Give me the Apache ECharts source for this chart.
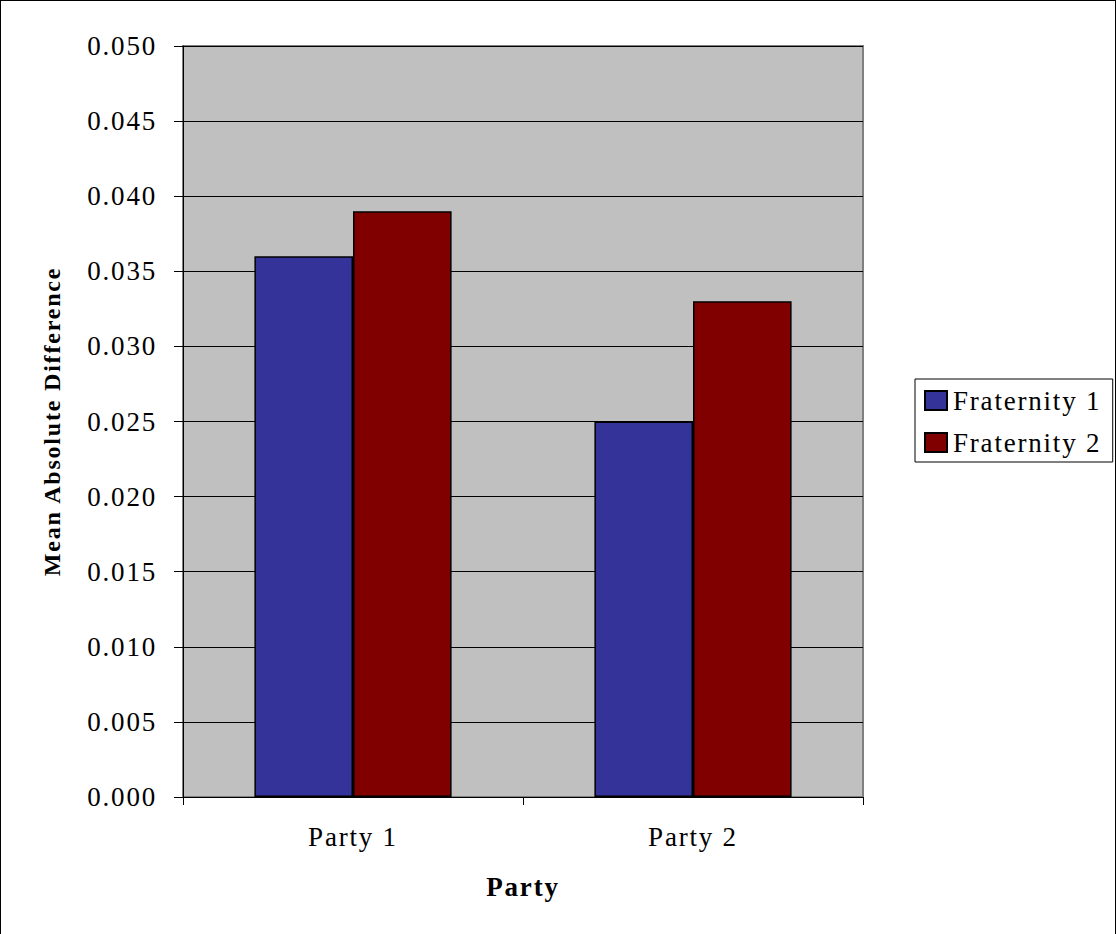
<!DOCTYPE html>
<html>
<head>
<meta charset="utf-8">
<script src="https://cdn.jsdelivr.net/npm/echarts@6/dist/echarts.min.js"></script>
<style>
html,body{margin:0;padding:0;background:#fff;}
#c{width:1116px;height:934px;box-sizing:border-box;border-top:1px solid #000;border-left:1px solid #000;border-right:1px solid #000;}
#c svg text{letter-spacing:1.8px;}
</style>
</head>
<body>
<div id="c"></div>
<script>
const categories = ['Party 1', 'Party 2'];
const fraternity1 = [0.036, 0.025];
const fraternity2 = [0.039, 0.033];
const seriesNames = ['Fraternity 1', 'Fraternity 2'];
const yTitle = 'Mean Absolute Difference';
const xTitle = 'Party';

const font = '"Liberation Serif", "Times New Roman", serif';
const chart = echarts.init(document.getElementById('c'), null, { renderer: 'svg' });
chart.setOption({
  animation: false,
  backgroundColor: '#fff',
  textStyle: { fontFamily: font },
  grid: {
    left: 182, top: 45, right: 252, bottom: 137,
    show: true, backgroundColor: '#C0C0C0', borderColor: '#808080', borderWidth: 2
  },
  legend: {
    orient: 'vertical',
    left: 914, top: 378,
    backgroundColor: '#fff',
    borderColor: '#000', borderWidth: 1,
    padding: [8, 33, 6, 9],
    itemGap: 15,
    itemWidth: 22, itemHeight: 19,
    textStyle: { fontFamily: font, fontSize: 27, color: '#000', padding: [0, 0, 0, 1] },
    data: seriesNames.map(n => ({ name: n, icon: 'rect', itemStyle: { borderColor: '#000', borderWidth: 2 } }))
  },
  xAxis: {
    type: 'category',
    data: categories,
    boundaryGap: true,
    name: xTitle,
    nameLocation: 'middle',
    nameGap: 76,
    nameTextStyle: { fontFamily: font, fontSize: 27, fontWeight: 'bold', color: '#000' },
    axisLine: { show: true, lineStyle: { color: '#000', width: 1 } },
    axisTick: { show: true, length: 8, lineStyle: { color: '#000' } },
    axisLabel: { fontFamily: font, fontSize: 27, color: '#000', margin: 26 },
    splitLine: { show: false }
  },
  yAxis: {
    type: 'value',
    min: 0, max: 0.05, interval: 0.005,
    name: yTitle,
    nameLocation: 'middle',
    nameGap: 119,
    nameTextStyle: { fontFamily: font, fontSize: 24, fontWeight: 'bold', color: '#000' },
    axisLine: { show: true, lineStyle: { color: '#000', width: 1 } },
    axisTick: { show: true, length: 9, lineStyle: { color: '#000' } },
    axisLabel: { fontFamily: font, fontSize: 27, color: '#000', margin: 26, padding: [0, 0, 4, 0], formatter: v => v.toFixed(3) },
    splitLine: { show: true, lineStyle: { color: '#000', width: 1 } }
  },
  series: [
    { name: seriesNames[0], type: 'bar', data: fraternity1, barGap: '0%', barCategoryGap: '42%',
      itemStyle: { color: '#333399', borderColor: '#000', borderWidth: 1.5 } },
    { name: seriesNames[1], type: 'bar', data: fraternity2, barGap: '0%', barCategoryGap: '42%',
      itemStyle: { color: '#800000', borderColor: '#000', borderWidth: 1.5 } }
  ]
});
</script>
</body>
</html>
